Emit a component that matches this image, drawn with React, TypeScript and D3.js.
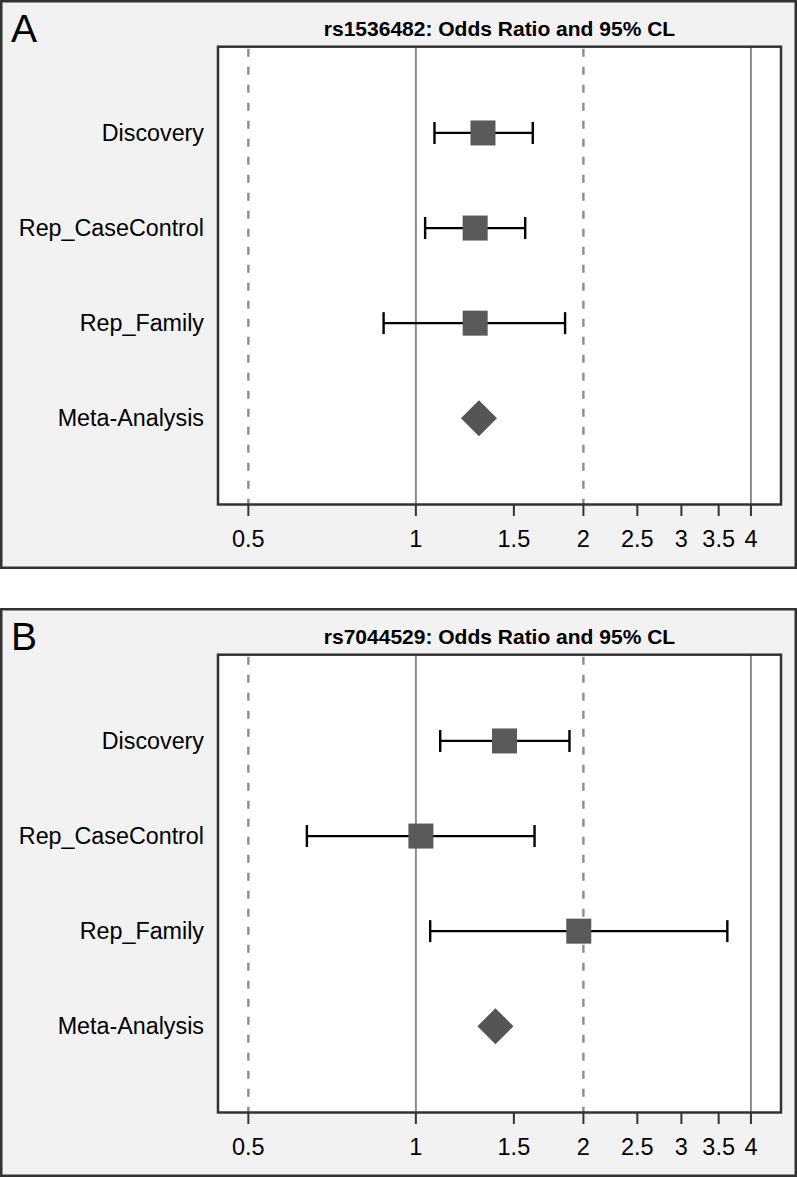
import React from "react";
import * as d3 from "d3";

const categories = ["Discovery", "Rep_CaseControl", "Rep_Family", "Meta-Analysis"];
const tickValues = [0.5, 1, 1.5, 2, 2.5, 3, 3.5, 4];
const refLinesDashed = [0.5, 2];
const refLinesSolid = [1, 4];

const panelLabels = ["A", "B"];
const panelTitles = ["rs1536482: Odds Ratio and 95% CL", "rs7044529: Odds Ratio and 95% CL"];

// per panel: odds ratio, lower CL, upper CL (null CL for meta-analysis)
const orA = [1.32, 1.278, 1.278, 1.298];
const lowA = [1.08, 1.039, 0.875, null];
const highA = [1.622, 1.572, 1.854, null];

const orB = [1.443, 1.021, 1.962, 1.39];
const lowB = [1.106, 0.637, 1.061, null];
const highB = [1.888, 1.634, 3.628, null];

const panelData = [
  { or: orA, low: lowA, high: highA },
  { or: orB, low: lowB, high: highB },
];

const W = 797;
const H = 1178;
const FONT = "'Liberation Sans', Arial, Helvetica, sans-serif";

function Panel({ idx, top }: { idx: number; top: number }) {
  const plotLeft = 218;
  const plotRight = 781;
  const plotTop = top + 45.7;
  const plotBottom = top + 503.5;
  const x = d3.scaleLog().domain([0.441, 4.53]).range([plotLeft, plotRight]);
  const y = d3.scalePoint<string>().domain(categories).range([plotTop, plotBottom]).padding(0.907);
  const data = panelData[idx];
  const sq = 25;
  const dm = 18;
  const cap = 11;
  return (
    <g>
      <rect x={1.25} y={top + 0.25} width={794.5} height={566.5} fill="#f2f2f2" stroke="#333" strokeWidth={2.5} />
      <text x={11} y={top + 40.5} fontSize={39} fontFamily={FONT} fill="#000">
        {panelLabels[idx]}
      </text>
      <text
        x={(plotLeft + plotRight) / 2}
        y={top + 35}
        fontSize={21}
        fontWeight="bold"
        textAnchor="middle"
        fontFamily={FONT}
        fill="#000"
      >
        {panelTitles[idx]}
      </text>
      <rect x={plotLeft} y={plotTop} width={plotRight - plotLeft} height={plotBottom - plotTop} fill="#fff" />
      {refLinesDashed.map((v) => (
        <line key={"d" + v} x1={x(v)} x2={x(v)} y1={plotTop} y2={plotBottom} stroke="#8c8c8c" strokeWidth={2.4} strokeDasharray="8,10" strokeDashoffset={-2} />
      ))}
      {refLinesSolid.map((v) => (
        <line key={"s" + v} x1={x(v)} x2={x(v)} y1={plotTop} y2={plotBottom} stroke="#8c8c8c" strokeWidth={2} />
      ))}
      {categories.map((c, i) => {
        const cy = y(c)!;
        const lo = data.low[i];
        const hi = data.high[i];
        const cx = x(data.or[i]);
        return (
          <g key={c}>
            <text x={204} y={cy + 8} fontSize={23.3} textAnchor="end" fontFamily={FONT} fill="#000">
              {c}
            </text>
            {lo != null && hi != null ? (
              <g>
                <line x1={x(lo)} x2={x(hi)} y1={cy} y2={cy} stroke="#000" strokeWidth={2.2} />
                <line x1={x(lo)} x2={x(lo)} y1={cy - cap} y2={cy + cap} stroke="#000" strokeWidth={2.4} />
                <line x1={x(hi)} x2={x(hi)} y1={cy - cap} y2={cy + cap} stroke="#000" strokeWidth={2.4} />
                <rect x={cx - sq / 2} y={cy - sq / 2} width={sq} height={sq} fill="#5a5a5a" />
              </g>
            ) : (
              <path d={`M${cx - dm},${cy} L${cx},${cy - dm} L${cx + dm},${cy} L${cx},${cy + dm} Z`} fill="#555" />
            )}
          </g>
        );
      })}
      <rect x={plotLeft} y={plotTop} width={plotRight - plotLeft} height={plotBottom - plotTop} fill="none" stroke="#333" strokeWidth={2.5} />
      {tickValues.map((t) => (
        <g key={t}>
          <line x1={x(t)} x2={x(t)} y1={plotBottom} y2={plotBottom + 11.5} stroke="#333" strokeWidth={2} />
          <text x={x(t)} y={top + 545.5} fontSize={23.5} textAnchor="middle" fontFamily={FONT} fill="#000">
            {String(t)}
          </text>
        </g>
      ))}
    </g>
  );
}

export default function App() {
  return (
    <svg
      width={W}
      height={H}
      viewBox={`0 0 ${W} ${H}`}
      style={{ position: "absolute", left: 0, top: 0, display: "block", background: "#fff" }}
    >
      <Panel idx={0} top={1} />
      <Panel idx={1} top={609} />
    </svg>
  );
}
